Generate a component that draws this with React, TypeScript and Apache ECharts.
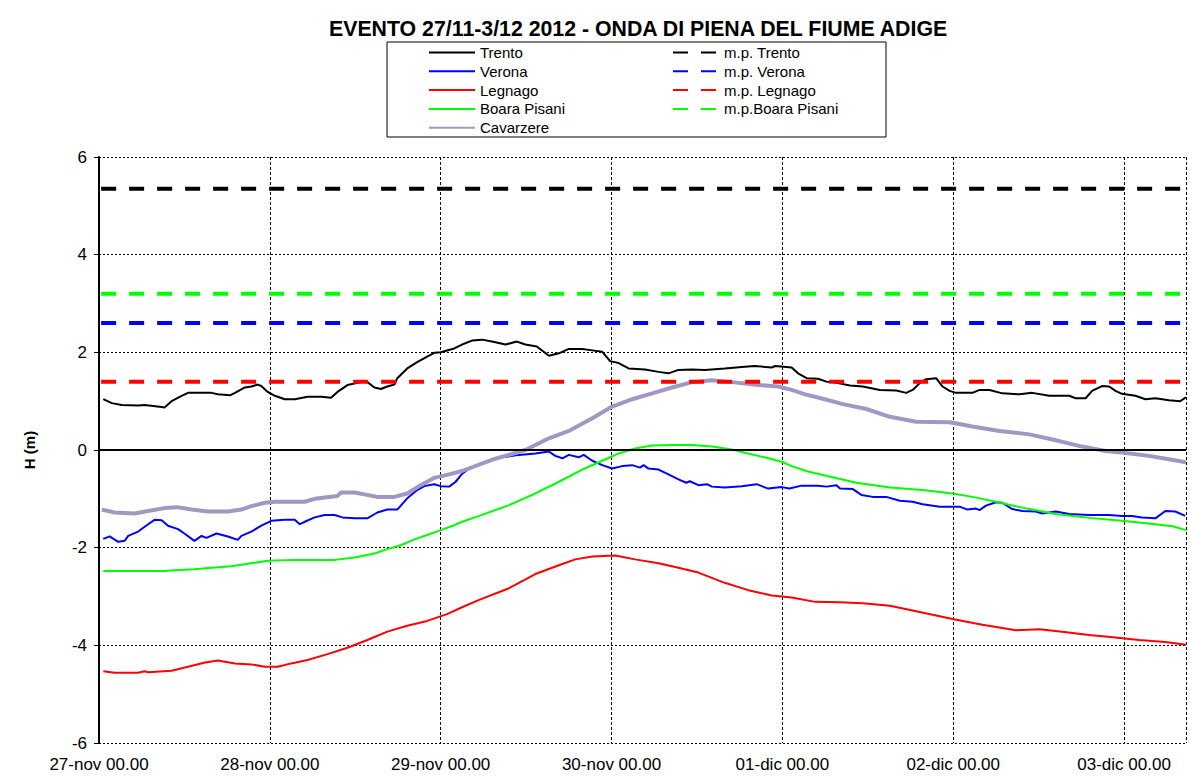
import React, { useEffect, useRef } from "react";
import * as echarts from "echarts";

const dayLabels = ["27-nov 00.00", "28-nov 00.00", "29-nov 00.00", "30-nov 00.00", "01-dic 00.00", "02-dic 00.00", "03-dic 00.00"];
const xMaxHours = 152.7;
const titleText = "EVENTO 27/11-3/12 2012 - ONDA DI PIENA DEL FIUME ADIGE";

// [hours from 27-nov 00.00, H (m)]
const trento = [[0.6,1.04],[1.8,0.96],[3.2,0.92],[5.5,0.91],[6.4,0.92],[8.8,0.88],[9.2,0.87],[10.2,1.0],[11.6,1.11],[12.5,1.17],[15.8,1.17],[16.7,1.14],[18.4,1.12],[19.1,1.17],[20.5,1.28],[21.4,1.30],[22.3,1.34],[22.8,1.31],[23.7,1.19],[24.7,1.11],[26.1,1.04],[27.5,1.04],[29.3,1.09],[31.2,1.09],[32.6,1.07],[33.5,1.19],[34.9,1.33],[36.8,1.39],[37.7,1.39],[38.7,1.28],[39.6,1.25],[40.5,1.30],[41.5,1.34],[41.9,1.47],[43.3,1.67],[44.7,1.80],[46.1,1.91],[47.1,1.99],[48.0,2.0],[49.9,2.08],[51.0,2.16],[52.4,2.24],[53.8,2.26],[55.2,2.22],[57.1,2.16],[58.7,2.22],[59.9,2.16],[61.5,2.12],[63.2,1.93],[64.6,1.98],[66.0,2.07],[67.9,2.07],[69.3,2.04],[70.7,2.01],[71.8,1.82],[73.0,1.78],[74.4,1.67],[76.7,1.65],[78.6,1.60],[80.0,1.57],[81.4,1.64],[83.3,1.65],[85.1,1.64],[87.9,1.67],[90.3,1.70],[92.1,1.72],[94.5,1.69],[95.0,1.72],[97.3,1.69],[98.2,1.57],[99.4,1.47],[101.0,1.46],[102.2,1.40],[103.1,1.39],[105.5,1.32],[107.3,1.30],[109.7,1.23],[112.0,1.22],[113.4,1.17],[114.3,1.23],[115.3,1.37],[116.2,1.45],[117.6,1.47],[118.5,1.30],[119.5,1.21],[120.4,1.17],[122.7,1.17],[123.7,1.23],[125.1,1.23],[126.9,1.16],[129.3,1.14],[131.1,1.17],[133.5,1.11],[136.3,1.11],[137.2,1.06],[138.6,1.06],[139.5,1.21],[140.9,1.31],[141.9,1.30],[142.8,1.21],[143.7,1.15],[145.6,1.11],[147.0,1.04],[148.4,1.06],[150.3,1.02],[151.9,1.00],[152.7,1.08]];

const verona = [[0.6,-1.82],[1.5,-1.77],[2.7,-1.88],[3.6,-1.86],[4.1,-1.76],[5.5,-1.67],[6.9,-1.52],[7.8,-1.43],[8.8,-1.44],[9.7,-1.55],[11.1,-1.62],[12.0,-1.71],[13.4,-1.86],[14.4,-1.76],[15.1,-1.80],[16.5,-1.71],[18.1,-1.77],[19.5,-1.84],[20.0,-1.76],[21.4,-1.67],[22.8,-1.55],[24.2,-1.45],[26.1,-1.43],[27.5,-1.43],[28.2,-1.52],[28.9,-1.47],[30.3,-1.38],[31.7,-1.33],[33.1,-1.33],[34.2,-1.38],[35.9,-1.40],[37.7,-1.40],[39.1,-1.28],[40.5,-1.22],[41.9,-1.22],[43.3,-0.99],[44.7,-0.82],[45.7,-0.74],[47.1,-0.70],[48.0,-0.74],[49.2,-0.75],[50.1,-0.65],[51.0,-0.49],[52.0,-0.38],[54.3,-0.24],[56.6,-0.15],[59.0,-0.10],[61.3,-0.07],[63.2,-0.03],[64.1,-0.12],[65.1,-0.17],[66.0,-0.10],[67.4,-0.15],[68.1,-0.10],[69.3,-0.22],[70.7,-0.31],[72.1,-0.38],[73.5,-0.33],[74.9,-0.31],[76.0,-0.36],[76.5,-0.31],[77.2,-0.38],[78.6,-0.40],[80.0,-0.50],[81.4,-0.60],[82.5,-0.67],[83.0,-0.64],[84.2,-0.72],[85.4,-0.70],[86.1,-0.75],[87.9,-0.77],[90.3,-0.74],[92.4,-0.70],[94.0,-0.79],[95.9,-0.76],[97.0,-0.79],[98.7,-0.73],[101.0,-0.73],[102.2,-0.75],[103.6,-0.72],[104.1,-0.79],[105.9,-0.80],[107.1,-0.92],[108.7,-0.96],[110.6,-0.96],[112.5,-1.04],[114.3,-1.06],[115.7,-1.11],[118.1,-1.16],[120.9,-1.16],[122.0,-1.22],[123.2,-1.20],[123.7,-1.23],[124.6,-1.14],[126.0,-1.07],[126.9,-1.08],[128.3,-1.21],[129.7,-1.25],[131.6,-1.26],[132.5,-1.30],[134.4,-1.26],[136.3,-1.31],[139.1,-1.33],[141.9,-1.33],[143.7,-1.35],[145.1,-1.35],[146.5,-1.38],[148.4,-1.40],[149.8,-1.25],[151.2,-1.26],[152.6,-1.35]];

const legnago = [[0.6,-4.53],[2.2,-4.56],[5.5,-4.56],[6.4,-4.53],[6.9,-4.55],[10.2,-4.52],[12.5,-4.44],[14.9,-4.35],[16.7,-4.31],[19.1,-4.37],[21.4,-4.39],[23.3,-4.44],[25.1,-4.44],[27.0,-4.37],[29.3,-4.30],[32.1,-4.18],[34.9,-4.05],[37.7,-3.89],[40.5,-3.72],[43.3,-3.60],[46.1,-3.50],[48.9,-3.36],[51.0,-3.22],[53.4,-3.07],[57.6,-2.83],[61.3,-2.54],[64.6,-2.36],[66.9,-2.24],[69.3,-2.18],[72.5,-2.16],[75.3,-2.24],[78.6,-2.32],[81.4,-2.41],[84.2,-2.51],[87.9,-2.72],[91.2,-2.87],[94.5,-2.98],[97.3,-3.02],[100.6,-3.11],[104.0,-3.12],[107.3,-3.14],[111.1,-3.19],[114.8,-3.30],[119.9,-3.46],[124.1,-3.58],[128.8,-3.69],[132.1,-3.67],[135.3,-3.72],[139.1,-3.79],[142.8,-3.84],[146.1,-3.89],[149.8,-3.93],[152.7,-3.99]];

const boaraPisani = [[0.6,-2.48],[9.2,-2.48],[10.6,-2.46],[13.4,-2.44],[15.8,-2.41],[18.6,-2.38],[20.9,-2.33],[23.7,-2.27],[27.5,-2.25],[33.1,-2.25],[35.9,-2.20],[38.7,-2.12],[40.5,-2.03],[42.4,-1.95],[44.3,-1.83],[46.1,-1.74],[48.0,-1.64],[49.9,-1.54],[51.0,-1.47],[53.4,-1.35],[57.6,-1.13],[61.3,-0.89],[64.6,-0.65],[67.9,-0.40],[70.7,-0.22],[73.0,-0.07],[75.3,0.03],[77.7,0.09],[80.5,0.10],[83.3,0.10],[86.1,0.07],[88.9,0.01],[91.2,-0.07],[93.5,-0.15],[95.9,-0.24],[97.3,-0.33],[99.6,-0.44],[101.7,-0.51],[106.4,-0.67],[111.1,-0.77],[115.7,-0.82],[119.9,-0.89],[122.7,-0.96],[126.0,-1.06],[129.7,-1.18],[134.4,-1.31],[139.1,-1.39],[143.7,-1.45],[148.4,-1.52],[150.8,-1.56],[152.7,-1.64]];

const cavarzere = [[0.4,-1.22],[2.2,-1.28],[5.0,-1.30],[6.9,-1.25],[9.2,-1.19],[10.9,-1.17],[13.0,-1.22],[15.3,-1.26],[18.1,-1.26],[20.0,-1.22],[21.4,-1.15],[23.3,-1.08],[24.7,-1.06],[28.9,-1.06],[30.3,-1.00],[33.5,-0.94],[34.0,-0.87],[35.9,-0.87],[39.1,-0.96],[41.5,-0.96],[43.3,-0.89],[45.2,-0.72],[47.1,-0.57],[48.9,-0.51],[51.0,-0.43],[55.2,-0.20],[59.9,0.0],[63.2,0.24],[66.0,0.39],[69.3,0.65],[72.1,0.89],[74.9,1.04],[77.7,1.16],[80.5,1.28],[83.3,1.39],[86.1,1.43],[88.9,1.39],[92.6,1.33],[95.4,1.30],[97.3,1.23],[99.2,1.14],[101.7,1.05],[104.5,0.94],[107.8,0.84],[111.1,0.68],[114.8,0.58],[119.5,0.57],[122.7,0.48],[126.5,0.39],[130.7,0.32],[134.4,0.20],[138.1,0.07],[141.4,-0.02],[143.7,-0.05],[147.5,-0.12],[150.3,-0.19],[152.7,-0.25]];

const stationNames = ["Trento", "Verona", "Legnago", "Boara Pisani", "Cavarzere"];
const stationData = [trento, verona, legnago, boaraPisani, cavarzere];

const mpNames = ["m.p. Trento", "m.p. Verona", "m.p. Legnago", "m.p.Boara Pisani"];
const mpValues = [5.35, 2.6, 1.4, 3.2];
const mpStart = 0.3;

const stationColors = ["#000000", "#0000FF", "#FF0000", "#00FF00", "#A098C2"];
const stationWidths = [2, 2, 2, 2, 4];
const mpColors = ["#000000", "#0000FF", "#FF0000", "#00FF00"];

const FONT = "'Liberation Sans', Arial, sans-serif";

export default function App() {
  const ref = useRef<HTMLDivElement>(null);

  useEffect(() => {
    if (!ref.current) return;
    const chart = echarts.init(ref.current, undefined, { renderer: "svg" });

    const series: any[] = stationNames.map((name, i) => ({
      name,
      type: "line",
      data: stationData[i],
      showSymbol: false,
      symbol: "none",
      lineStyle: { color: stationColors[i], width: stationWidths[i] },
      itemStyle: { color: stationColors[i] },
      z: 3,
      ...(i === 0
        ? {
            markLine: {
              silent: true,
              symbol: ["none", "none"],
              label: { show: false },
              lineStyle: { color: "#000", width: 2, type: "solid" },
              data: [{ yAxis: 0 }],
            },
          }
        : {}),
    }));

    mpNames.forEach((name, i) => {
      series.push({
        name,
        type: "line",
        data: [[mpStart, mpValues[i]], [xMaxHours, mpValues[i]]],
        showSymbol: false,
        symbol: "none",
        lineStyle: { color: mpColors[i], width: 4, type: [15, 13] },
        itemStyle: { color: mpColors[i] },
        z: 4,
      });
    });

    const legendCommon = {
      orient: "vertical",
      top: 45,
      itemWidth: 46,
      itemHeight: 14,
      itemGap: 3.8,
      padding: 0,
      selectedMode: false,
      itemStyle: { opacity: 0, borderWidth: 0 },
      textStyle: { fontSize: 15, fontFamily: FONT, color: "#000" },
    };

    chart.setOption({
      animation: false,
      backgroundColor: "#fff",
      title: {
        text: titleText,
        left: 324,
        top: 13,
        textStyle: { fontSize: 21.3, fontWeight: "bold", fontFamily: FONT, color: "#000" },
      },
      legend: [
        { ...legendCommon, left: 428, data: stationNames },
        { ...legendCommon, left: 672, data: mpNames },
      ],
      grid: { left: 99, right: 0, top: 157, bottom: 33, containLabel: false },
      xAxis: {
        type: "value",
        min: 0,
        max: xMaxHours,
        interval: 24,
        axisLine: { show: false },
        axisTick: { show: false },
        axisLabel: {
          margin: 13,
          fontSize: 17,
          fontFamily: FONT,
          color: "#000",
          formatter: (v: number) => (v % 24 === 0 ? dayLabels[v / 24] || "" : ""),
        },
        splitLine: { show: true, lineStyle: { color: "#000", width: 1, type: [3, 2] } },
      },
      yAxis: {
        type: "value",
        min: -6,
        max: 6,
        interval: 2,
        name: "H (m)",
        nameLocation: "middle",
        nameGap: 62,
        nameTextStyle: { fontSize: 15, fontWeight: "bold", fontFamily: FONT, color: "#000" },
        axisLine: { show: true, onZero: false, lineStyle: { color: "#000", width: 2 } },
        axisTick: { show: true, length: 5, lineStyle: { color: "#000", width: 1 } },
        axisLabel: { margin: 12, fontSize: 17, fontFamily: FONT, color: "#000" },
        splitLine: { show: true, lineStyle: { color: "#000", width: 1, type: [2, 2] } },
      },
      graphic: [
        {
          type: "rect",
          shape: { x: 387, y: 42, width: 499, height: 95 },
          style: { fill: "none", stroke: "#000", lineWidth: 1 },
          z: 0,
        },
      ],
      series,
    });

    return () => chart.dispose();
  }, []);

  return (
    <div
      ref={ref}
      style={{ position: "fixed", left: 0, top: 0, width: 1189, height: 776, background: "#fff" }}
    />
  );
}
